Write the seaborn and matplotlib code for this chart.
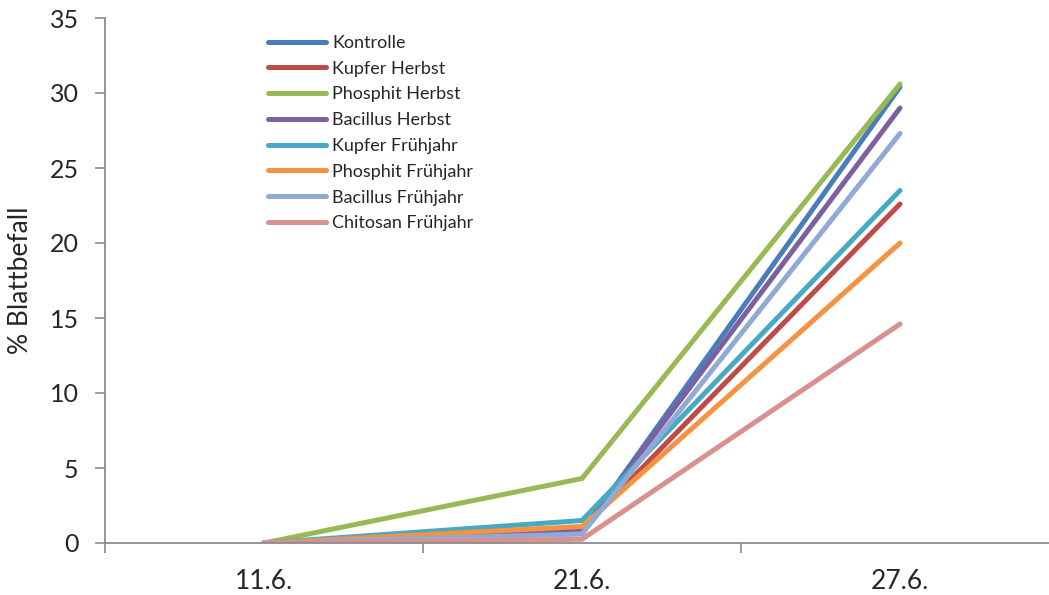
import pandas as pd
import seaborn as sns
import matplotlib.pyplot as plt

# =================================================================
# 1. Data
# =================================================================
dates = ["11.6.", "21.6.", "27.6."]

kontrolle = [0.0, 0.7, 30.4]
kupfer_herbst = [0.0, 0.9, 22.6]
phosphit_herbst = [0.0, 4.3, 30.6]
bacillus_herbst = [0.0, 0.8, 29.0]
kupfer_fruehjahr = [0.0, 1.5, 23.5]
phosphit_fruehjahr = [0.0, 1.1, 20.0]
bacillus_fruehjahr = [0.0, 0.6, 27.3]
chitosan_fruehjahr = [0.0, 0.25, 14.6]

series = {
    "Kontrolle": kontrolle,
    "Kupfer Herbst": kupfer_herbst,
    "Phosphit Herbst": phosphit_herbst,
    "Bacillus Herbst": bacillus_herbst,
    "Kupfer Frühjahr": kupfer_fruehjahr,
    "Phosphit Frühjahr": phosphit_fruehjahr,
    "Bacillus Frühjahr": bacillus_fruehjahr,
    "Chitosan Frühjahr": chitosan_fruehjahr,
}

colors = ["#4A7EBB", "#BE4B48", "#98B954", "#7D60A0",
          "#46AAC5", "#F69240", "#8FAAD4", "#D99190"]

rows = []
for name, vals in series.items():
    for d, v in zip(dates, vals):
        rows.append({"datum": d, "befall": v, "variante": name})
df = pd.DataFrame(rows)

# =================================================================
# 2. Plot
# =================================================================
sns.set_theme(style="white")
plt.rcParams["font.family"] = ["Lato", "DejaVu Sans"]

fig = plt.figure(figsize=(10.49, 5.95), dpi=100)
ax = fig.add_axes([105 / 1049, 52 / 595, 954 / 1049, 525 / 595])

sns.lineplot(
    data=df,
    x="datum",
    y="befall",
    hue="variante",
    hue_order=list(series.keys()),
    palette=dict(zip(series.keys(), colors)),
    linewidth=3.6,
    ax=ax,
    sort=False,
)
for line in ax.lines:
    line.set_solid_capstyle("round")

ax.set_xlim(-0.5, 2.5)
ax.set_ylim(0, 35)
ax.set_yticks(range(0, 36, 5))
ax.set_xticks(range(len(dates)))
ax.set_xticklabels(dates)
ax.set_xticks([-0.5, 0.5, 1.5, 2.5], minor=True)

grey = "#8C8C8C"
for side in ["top", "right"]:
    ax.spines[side].set_visible(False)
for side in ["left", "bottom"]:
    ax.spines[side].set_color(grey)
    ax.spines[side].set_linewidth(1.3)

ax.tick_params(axis="y", which="major", direction="out", length=7, width=1.2,
               color=grey, labelsize=18, pad=12, left=True, labelcolor="#262626")
ax.tick_params(axis="x", which="major", length=0, labelsize=19, pad=19,
               labelcolor="#262626")
ax.tick_params(axis="x", which="minor", direction="out", length=7, width=1.2,
               color=grey, bottom=True)

ax.set_xlabel("")
ax.set_ylabel("% Blattbefall", fontsize=19, color="#262626")
ax.yaxis.set_label_coords(-0.075, 0.5)

handles, labels = ax.get_legend_handles_labels()
leg = ax.legend(handles, labels, loc="upper left",
                bbox_to_anchor=(268 / 1049, 1 - 35 / 595),
                bbox_transform=fig.transFigure,
                frameon=False, fontsize=13, handlelength=3.2,
                handletextpad=0.35, labelspacing=0.54, borderpad=0,
                borderaxespad=0)
for lh in leg.get_lines():
    lh.set_linewidth(3.6)

fig.savefig("out.png", dpi=100)
